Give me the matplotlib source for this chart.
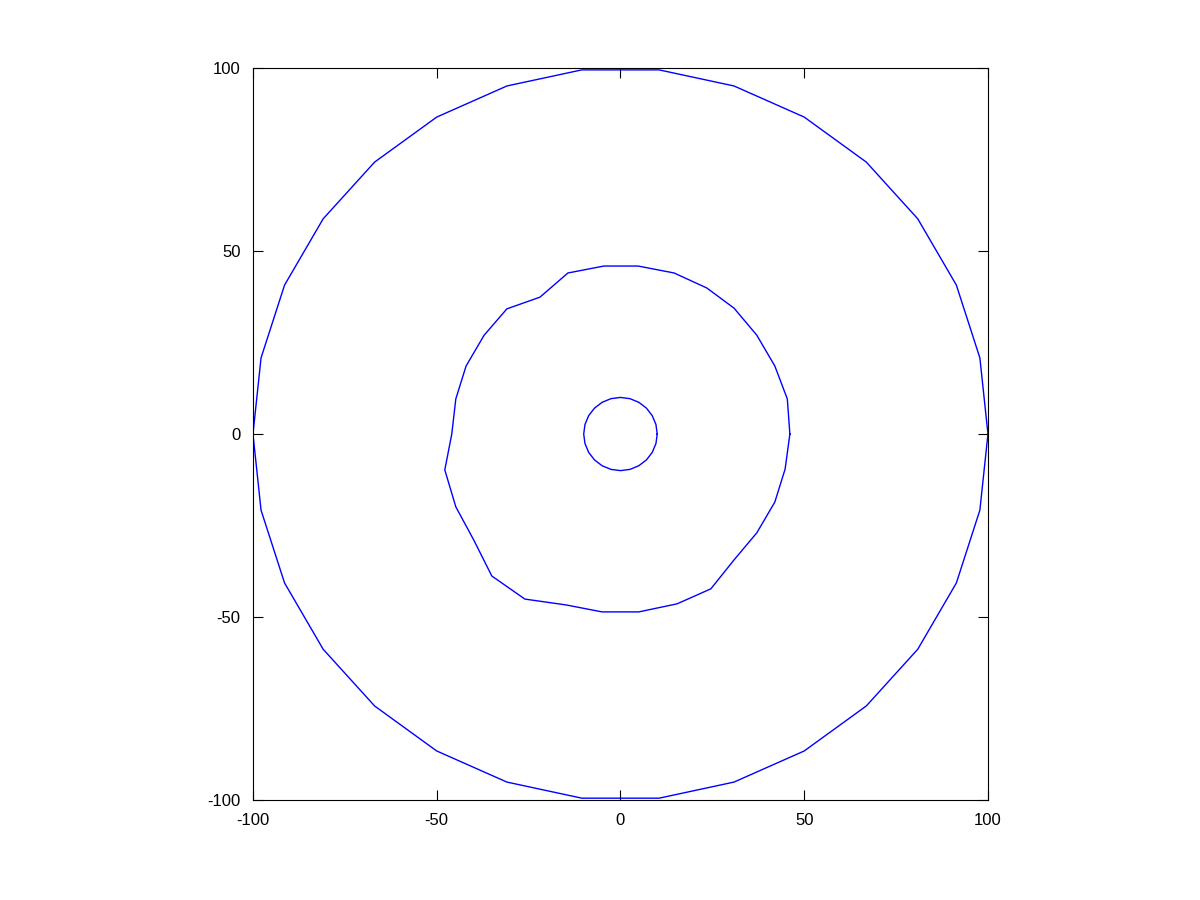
import matplotlib
matplotlib.use('Agg')
import matplotlib.pyplot as plt

plt.rcParams['font.family'] = ['Liberation Sans', 'DejaVu Sans']
plt.rcParams['axes.unicode_minus'] = False

# outer polygon
outer_x = [100, 97.8, 91.4, 80.9, 66.9, 50, 30.9, 10.5, -10.5, -30.9, -50, -66.9, -80.9, -91.4, -97.8,
           -100, -97.8, -91.4, -80.9, -66.9, -50, -30.9, -10.5, 10.5, 30.9, 50, 66.9, 80.9, 91.4, 97.8, 100]
outer_y = [0, 20.8, 40.7, 58.8, 74.3, 86.6, 95.1, 99.5, 99.5, 95.1, 86.6, 74.3, 58.8, 40.7, 20.8,
           0, -20.8, -40.7, -58.8, -74.3, -86.6, -95.1, -99.5, -99.5, -95.1, -86.6, -74.3, -58.8, -40.7, -20.8, 0]

# middle irregular contour
mid_x = [46.1, 45.4, 42, 37.1, 30.9, 23.5, 14.6, 4.8, -4.5, -14.3, -21.9, -30.9, -37.1, -42, -44.8,
         -45.9, -47.8, -44.8, -39.9, -35, -26, -14.8, -5, 5, 15.4, 24.6, 30.9, 37.1, 42, 44.8, 46.1]
mid_y = [0, 9.6, 18.6, 27, 34.4, 39.9, 44, 45.9, 45.9, 44, 37.4, 34.2, 27, 18.6, 9.6,
         0, -9.8, -19.9, -29, -38.8, -45.1, -46.7, -48.6, -48.6, -46.4, -42.3, -34.4, -27, -18.6, -9.6, 0]

# inner circle, radius 10
inner_x = [10, 9.66, 8.66, 7.07, 5, 2.59, 0, -2.59, -5, -7.07, -8.66, -9.66,
           -10, -9.66, -8.66, -7.07, -5, -2.59, 0, 2.59, 5, 7.07, 8.66, 9.66, 10]
inner_y = [0, 2.59, 5, 7.07, 8.66, 9.66, 10, 9.66, 8.66, 7.07, 5, 2.59,
           0, -2.59, -5, -7.07, -8.66, -9.66, -10, -9.66, -8.66, -7.07, -5, -2.59, 0]

ticks = [-100, -50, 0, 50, 100]

fig = plt.figure(figsize=(12, 9), dpi=100)
ax = fig.add_axes([0.2108, 0.1111, 0.6125, 0.8133])
for xs, ys in [(outer_x, outer_y), (mid_x, mid_y), (inner_x, inner_y)]:
    ax.plot(xs, ys, color='#0000ff', linewidth=1)

ax.set_xlim(-100, 100)
ax.set_ylim(-100, 100)
ax.set_xticks(ticks)
ax.set_yticks(ticks)
ax.tick_params(direction='in', top=True, right=True, labelsize=12, length=7, pad=9)

fig.savefig('out.png', dpi=100)
